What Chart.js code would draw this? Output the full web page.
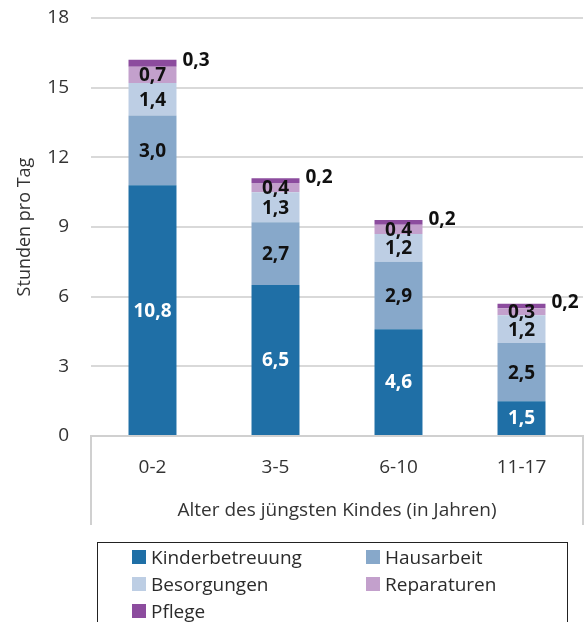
<!DOCTYPE html>
<html>
<head>
<meta charset="utf-8">
<script src="https://cdn.jsdelivr.net/npm/chart.js@4.4.1/dist/chart.umd.min.js"></script>
<style>
  html, body { margin: 0; padding: 0; background: #fff; }
  #wrap { position: relative; width: 587px; height: 622px; overflow: hidden; }
  #legend {
    position: absolute; left: 97px; top: 542px; width: 471px; height: 100px;
    border: 1px solid #222; box-sizing: border-box;
    font-family: 'Open Sans', sans-serif; font-size: 19px; color: #2b2b2b;
    display: grid; grid-template-columns: 234px 200px; grid-auto-rows: 27px;
    padding: 0 0 0 34px;
  }
  .item { display: flex; align-items: center; }
  .sw { width: 14px; height: 14px; margin-right: 5px; flex: none; }
</style>
</head>
<body>
<div id="wrap">
  <canvas id="c" width="587" height="622"></canvas>
  <div id="legend"></div>
</div>
<script>
const categories = ['0-2', '3-5', '6-10', '11-17'];
const seriesNames = ['Kinderbetreuung', 'Hausarbeit', 'Besorgungen', 'Reparaturen', 'Pflege'];
const kinderbetreuung = [10.8, 6.5, 4.6, 1.5];
const hausarbeit = [3.0, 2.7, 2.9, 2.5];
const besorgungen = [1.4, 1.3, 1.2, 1.2];
const reparaturen = [0.7, 0.4, 0.4, 0.3];
const pflege = [0.3, 0.2, 0.2, 0.2];
const yTicks = [0, 3, 6, 9, 12, 15, 18];
const colors = ['#1f6fa6', '#87a8ca', '#bdcee4', '#c3a0cc', '#8c4c9e'];

const seriesValues = [kinderbetreuung, hausarbeit, besorgungen, reparaturen, pflege];
const FONT = "'Open Sans', sans-serif";

const fmt = v => v.toFixed(1).replace('.', ',');

const labelPlugin = {
  id: 'segLabels',
  afterDatasetsDraw(chart) {
    const ctx = chart.ctx;
    ctx.save();
    ctx.font = "bold 19px " + FONT;
    ctx.textBaseline = 'middle';
    chart.data.datasets.forEach((ds, di) => {
      const meta = chart.getDatasetMeta(di);
      meta.data.forEach((el, i) => {
        const v = ds.data[i];
        const cy = (el.y + el.base) / 2;
        if (di === seriesValues.length - 1) {
          ctx.fillStyle = '#111';
          ctx.textAlign = 'left';
          ctx.fillText(fmt(v), el.x + el.width / 2 + 6, cy - 3);
        } else {
          ctx.fillStyle = di === 0 ? '#fff' : '#111';
          ctx.textAlign = 'center';
          ctx.fillText(fmt(v), el.x, cy + 1);
        }
      });
    });
    ctx.restore();
  }
};

const boxPlugin = {
  id: 'axisBox',
  afterDraw(chart) {
    const x = chart.scales.x;
    const ctx = chart.ctx;
    ctx.save();
    ctx.strokeStyle = '#d0d0d0';
    ctx.lineWidth = 2;
    ctx.beginPath();
    ctx.moveTo(x.left, x.top);
    ctx.lineTo(x.left, x.bottom);
    ctx.moveTo(x.right, x.top);
    ctx.lineTo(x.right, x.bottom);
    ctx.stroke();
    ctx.restore();
  }
};

new Chart(document.getElementById('c'), {
  type: 'bar',
  data: {
    labels: categories,
    datasets: seriesNames.map((n, i) => ({
      label: n,
      data: seriesValues[i],
      backgroundColor: colors[i],
      borderWidth: 0,
      barPercentage: 0.39,
      categoryPercentage: 1.0
    }))
  },
  options: {
    responsive: false,
    animation: false,
    devicePixelRatio: 1,
    layout: { padding: { top: 18, right: 4, bottom: 97, left: 0 } },
    plugins: { legend: { display: false }, tooltip: { enabled: false } },
    scales: {
      x: {
        stacked: true,
        grid: { display: false, drawTicks: false },
        border: { display: true, color: '#d0d0d0', width: 2 },
        ticks: { color: '#333', font: { family: FONT, size: 19 }, padding: 20 },
        title: {
          display: true, text: 'Alter des jüngsten Kindes (in Jahren)',
          color: '#333', font: { family: FONT, size: 19 }, padding: { top: 0, bottom: 3 }
        },
        afterFit(s) { s.height = 89; }
      },
      y: {
        stacked: true,
        min: 0, max: 18,
        afterBuildTicks(s) { s.ticks = yTicks.map(v => ({ value: v })); },
        grid: { color: '#d9d9d9', lineWidth: 2, drawTicks: true, tickLength: 22, tickColor: 'rgba(0,0,0,0)' },
        border: { display: false },
        ticks: { color: '#333', font: { family: FONT, size: 19 }, padding: 0 },
        title: {
          display: true, text: 'Stunden pro Tag',
          color: '#333', font: { family: FONT, size: 18 }, padding: { top: 14, bottom: 0 }
        },
        afterFit(s) { s.width = 91; }
      }
    }
  },
  plugins: [labelPlugin, boxPlugin]
});

const lg = document.getElementById('legend');
seriesNames.forEach((n, i) => {
  const d = document.createElement('div');
  d.className = 'item';
  const sw = document.createElement('span');
  sw.className = 'sw';
  sw.style.background = colors[i];
  const t = document.createElement('span');
  t.textContent = n;
  d.appendChild(sw); d.appendChild(t);
  lg.appendChild(d);
});
</script>
</body>
</html>
